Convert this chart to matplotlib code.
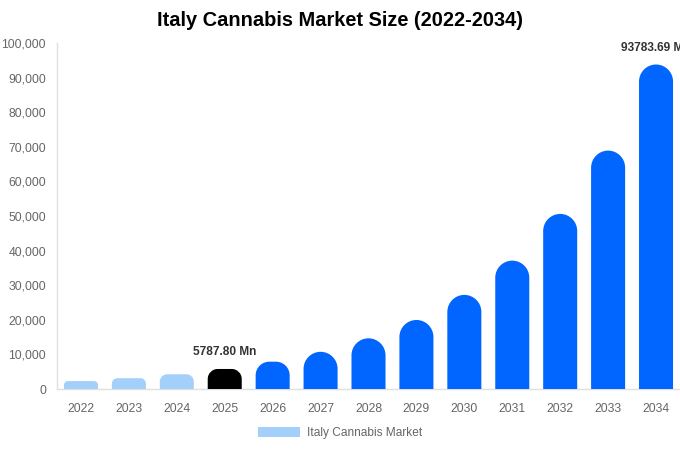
import matplotlib
matplotlib.use("Agg")
import matplotlib.pyplot as plt
from matplotlib.path import Path
from matplotlib.patches import PathPatch
from matplotlib.patches import Patch

plt.rcParams['font.family'] = ['Liberation Sans', 'DejaVu Sans']

years = ['2022', '2023', '2024', '2025', '2026', '2027', '2028', '2029',
         '2030', '2031', '2032', '2033', '2034']
values = [2290, 3120, 4250, 5787.80, 7890, 10750, 14650, 19950,
          27200, 37100, 50600, 68900, 93783.69]
colors = ['#a3cffb'] * 3 + ['#000000'] + ['#0066ff'] * 9
labels = {3: '5787.80 Mn', 12: '93783.69 Mn'}
yticks = [0, 10000, 20000, 30000, 40000, 50000, 60000, 70000, 80000, 90000, 100000]

fig = plt.figure(figsize=(6.8, 4.5), dpi=100)
ax = fig.add_axes([57 / 680, 61 / 450, 623 / 680, 346 / 450])

bars = ax.bar(range(len(years)), values, width=0.71, color=colors)
ax.set_xlim(-0.5, len(years) - 0.5)
ax.set_ylim(0, 100000)
ax.set_yticks(yticks)
ax.set_yticklabels([f'{v:,}' for v in yticks])
ax.set_xticks(range(len(years)))
ax.set_xticklabels(years)
ax.tick_params(axis='both', length=0, colors='#666666', labelsize=8.7)
ax.tick_params(axis='y', pad=8)
ax.tick_params(axis='x', pad=10)
for s in ['top', 'right']:
    ax.spines[s].set_visible(False)
for s in ['left', 'bottom']:
    ax.spines[s].set_color('#e0e0e0')
    ax.spines[s].set_linewidth(1)

fig.canvas.draw()
# replace bars with rounded-top versions (display coords)
for b in bars:
    bb = b.get_window_extent()
    x0, x1, y0, y1 = bb.x0, bb.x1, bb.y0, bb.y1
    w = x1 - x0
    h = y1 - y0
    r = min(w / 2, h / 2)
    k = 0.5523
    verts = [(x0, y0), (x0, y1 - r),
             (x0, y1 - r + k * r), (x0 + r - k * r, y1), (x0 + r, y1),
             (x1 - r, y1),
             (x1 - r + k * r, y1), (x1, y1 - r + k * r), (x1, y1 - r),
             (x1, y0), (x0, y0)]
    codes = [Path.MOVETO, Path.LINETO,
             Path.CURVE4, Path.CURVE4, Path.CURVE4,
             Path.LINETO,
             Path.CURVE4, Path.CURVE4, Path.CURVE4,
             Path.LINETO, Path.CLOSEPOLY]
    p = PathPatch(Path(verts, codes), facecolor=b.get_facecolor(),
                  edgecolor='none', transform=None, zorder=3)
    fig.add_artist(p)
    b.set_visible(False)

for i, t in labels.items():
    ax.annotate(t, (i, values[i]), xytext=(0, 17), textcoords='offset pixels',
                ha='center', va='center', fontsize=8.6, fontweight='bold',
                color='#333333', annotation_clip=False)

fig.text(340 / 680, 1 - 21 / 450, 'Italy Cannabis Market Size (2022-2034)',
         ha='center', va='center', fontsize=14.4, fontweight='bold', color='#000000')

leg = fig.legend(handles=[Patch(facecolor='#a3cffb', label='Italy Cannabis Market')],
                 loc='center', bbox_to_anchor=(340 / 680, 1 - 433 / 450),
                 frameon=False, fontsize=8.6, handlelength=3.5, handleheight=0.9,
                 handletextpad=0.6)
for t in leg.get_texts():
    t.set_color('#666666')

fig.savefig('out.png', dpi=100)
